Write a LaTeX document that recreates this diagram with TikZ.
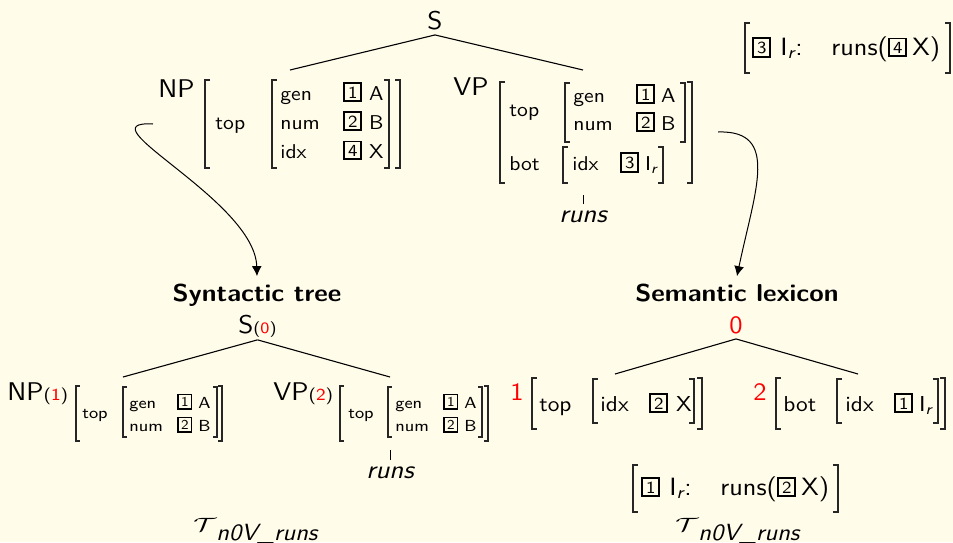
\documentclass[tikz,border=0pt]{standalone}
\usepackage{amsmath}
\usepackage{fontspec}
\usepackage{graphicx}
\usetikzlibrary{arrows.meta}

\definecolor{paper}{RGB}{255,252,234}
\definecolor{idxred}{RGB}{255,0,0}

% slightly widened sans lettering
\newcommand{\hs}{1.08}
\newcommand{\w}[1]{\scalebox{\hs}[1]{#1}}
% boxed tag numbers (optional scale)
\newcommand{\tg}[2][1]{\scalebox{#1}{\w{\raisebox{1pt}{\setlength{\fboxrule}{0.95pt}\setlength{\fboxsep}{1.2pt}\fbox{\fontsize{8.5}{8.5}\selectfont #2}}}}}
% feature name in a fixed-width column
\newcommand{\feat}[2]{\makebox[#1][l]{\w{#2}}}
% index variable I_r
\newcommand{\Ir}{I\textsubscript{\itshape r}}
% semantic formula [tag I_r: runs(tag X)]
\newcommand{\runsformula}[2]{\makebox[14pt][l]{\tg{#1}}\makebox[25.5pt][l]{\w{\Ir:}}\makebox[28.5pt][l]{\w{runs(}}\makebox[12pt][l]{\tg{#2}}\w{X)}}
% square brackets of the feature structures: [serif]{x}{top}{bottom}
\newcommand{\lbr}[4][5]{\draw[brk] (#2+#1,#3) -| (#2,#4) -- (#2+#1,#4);}
\newcommand{\rbr}[4][5]{\draw[brk] (#2-#1,#3) -| (#2,#4) -- (#2-#1,#4);}

\tikzset{
  lbl/.style={inner sep=0pt, anchor=base west},
  big/.style={lbl, font=\sffamily\fontsize{12.8}{15}\selectfont},
  avm/.style={lbl, font=\sffamily\fontsize{10}{12}\selectfont},
  avms/.style={lbl, font=\sffamily\fontsize{8}{9}\selectfont},
  sem/.style={lbl, font=\sffamily\fontsize{10.8}{12}\selectfont},
  frm/.style={lbl, font=\sffamily\fontsize{12.5}{14}\selectfont},
  numred/.style={lbl, text=idxred, font=\sffamily\fontsize{12.5}{14}\selectfont},
  head/.style={inner xsep=0pt, inner ysep=3.5pt, anchor=base, font=\sffamily\bfseries\fontsize{12.2}{14}\selectfont},
  runs/.style={inner xsep=0pt, inner ysep=3pt, anchor=base, font=\sffamily\itshape\fontsize{12.8}{14}\selectfont},
  tlab/.style={lbl, font=\sffamily\fontsize{13}{14}\selectfont},
  brk/.style={line width=0.65pt, draw=black!85},
  edge/.style={line width=0.55pt},
  tick/.style={line width=0.4pt},
  link/.style={line width=0.5pt, -{Latex[length=5pt,width=5pt]}},
}

\begin{document}
\begin{tikzpicture}[x=0.5pt,y=-0.5pt]
\fill[paper] (0,0) rectangle (953,542);
\useasboundingbox (0,0) rectangle (953,542);

% ---------------- elementary tree with feature structures ----------------
\node[big, anchor=base, inner ysep=2.5pt] (s) at (435,29) {\w{S}};
\coordinate (np-att) at (290,70);
\coordinate (vp-att) at (583,70);
\draw[edge] (s.south) -- (np-att);
\draw[edge] (s.south) -- (vp-att);

% NP
\node[big] (np) at (158,97) {\w{NP}};
\lbr{205}{80}{168} \rbr{400}{80}{168}
\node[avm] (np-top) at (215,129) {\w{top}};
\lbr{272}{80}{168} \rbr{389}{80}{168}
\node[avm] (np-gen) at (280,100) {\feat{31.5pt}{gen}\tg{1}\hspace{3.5pt}\w{A}};
\node[avm] (np-num) at (280,129) {\feat{31.5pt}{num}\tg{2}\hspace{3.5pt}\w{B}};
\node[avm] (np-idx) at (280,158) {\feat{31.5pt}{idx}\tg{4}\hspace{3.5pt}\w{X}};

% VP
\node[big] (vp) at (453,95) {\w{VP}};
\lbr{500}{82}{183} \rbr{692}{82}{183}
\node[avm] (vp-top) at (509,116) {\w{top}};
\lbr{565}{83}{142} \rbr{685}{83}{142}
\node[avm] (vp-gen) at (573,102) {\feat{31.5pt}{gen}\tg{1}\hspace{3pt}\w{A}};
\node[avm] (vp-num) at (573,130) {\feat{31.5pt}{num}\tg{2}\hspace{3pt}\w{B}};
\node[avm] (vp-bot) at (509,170) {\w{bot}};
\lbr{563}{147}{183} \rbr{663}{147}{183}
\node[avm] (vp-idx) at (572,170) {\feat{24pt}{idx}\tg{3}\hspace{3pt}\w{\Ir}};
\coordinate (vp-foot) at (583,195);
\node[runs] (runs-a) at (583,222) {\w{runs}};
\draw[tick] (vp-foot) -- (runs-a.north);

% semantic representation
\lbr{745}{23}{73} \rbr{950}{23}{73}
\node[frm] (lex-a) at (752,55) {\runsformula{3}{4}};

% ---------------- headings and links ----------------
\node[head] (syn) at (257,301) {\w{Syntactic tree}};
\node[head] (sem) at (737,301) {\w{Semantic lexicon}};
\coordinate (np-tail) at (153,124);
\coordinate (vp-tail) at (718,132);
\draw[link] (np-tail) .. controls (80,120) and (255,200) .. (syn.north);
\draw[link] (vp-tail) .. controls (780,130) and (755,190) .. (sem.north);

% ---------------- syntactic tree ----------------
\node[big, inner ysep=1.25pt] (s0) at (238,333) {\w{S}{\fontsize{7.9}{9}\selectfont\w{(\textcolor{idxred}{0})}}};
\coordinate (np1-att) at (123,377);
\coordinate (vp2-att) at (390,377);
\draw[edge] (s0.south) -- (np1-att);
\draw[edge] (s0.south) -- (vp2-att);

\node[big] (np1) at (7,400) {\w{NP}{\fontsize{8.4}{9}\selectfont\w{(\textcolor{idxred}{1})}}};
\lbr[4]{76}{386}{441} \rbr[4]{222}{386}{441}
\node[avms] (np1-top) at (82,418) {\w{top}};
\lbr[4]{123}{387}{437} \rbr[4]{217}{387}{437}
\node[avms] (np1-gen) at (129,408) {\feat{24pt}{gen}\tg[0.8]{1}\hspace{3pt}\w{A}};
\node[avms] (np1-num) at (129,431) {\feat{24pt}{num}\tg[0.8]{2}\hspace{3pt}\w{B}};

\node[big] (vp2) at (273,400) {\w{VP}{\fontsize{8.4}{9}\selectfont\w{(\textcolor{idxred}{2})}}};
\lbr[4]{340}{386}{441} \rbr[4]{488}{386}{441}
\node[avms] (vp2-top) at (348,418) {\w{top}};
\lbr[4]{388}{387}{437} \rbr[4]{482}{387}{437}
\node[avms] (vp2-gen) at (395,408) {\feat{24pt}{gen}\tg[0.8]{1}\hspace{3pt}\w{A}};
\node[avms] (vp2-num) at (395,431) {\feat{24pt}{num}\tg[0.8]{2}\hspace{3pt}\w{B}};
\coordinate (vp2-foot) at (390,450);
\node[runs] (runs-b) at (390,478) {\w{runs}};
\draw[tick] (vp2-foot) -- (runs-b.north);

\node[tlab] (tau-a) at (193,531) {\makebox[11.5pt][l]{\scalebox{1.2}[0.8]{$\mathcal{T}$}}\raisebox{-4.5pt}{\fontsize{11.7}{12}\selectfont\w{\itshape n0V\_runs}}};

% ---------------- semantic lexicon ----------------
\node[numred, anchor=base, inner ysep=2.5pt] (r0) at (736,333) {\w{0}};
\coordinate (sem1-att) at (615,374);
\coordinate (sem2-att) at (858,374);
\draw[edge] (r0.south) -- (sem1-att);
\draw[edge] (r0.south) -- (sem2-att);

\node[numred] (r1) at (510,400) {\w{1}};
\lbr{532}{378}{429} \rbr{702}{378}{429}
\node[sem] (sem1-top) at (539,411) {\w{top}};
\lbr{593}{379}{423} \rbr{694}{379}{423}
\node[sem] (sem1-idx) at (600,411) {\feat{24.5pt}{idx}\tg{2}\hspace{4pt}\w{X}};

\node[numred] (r2) at (753,400) {\w{2}};
\lbr{776}{378}{429} \rbr{945}{378}{429}
\node[sem] (sem2-bot) at (783,411) {\w{bot}};
\lbr{837}{379}{423} \rbr{938}{379}{423}
\node[sem] (sem2-idx) at (845,411) {\feat{24.5pt}{idx}\tg{1}\hspace{3pt}\w{\Ir}};

\lbr{633}{465}{512} \rbr{838}{465}{512}
\node[frm] (lex-b) at (641,495) {\runsformula{1}{2}};

\node[tlab] (tau-b) at (675,531) {\makebox[11.5pt][l]{\scalebox{1.2}[0.8]{$\mathcal{T}$}}\raisebox{-4.5pt}{\fontsize{11.7}{12}\selectfont\w{\itshape n0V\_runs}}};
\end{tikzpicture}
\end{document}
